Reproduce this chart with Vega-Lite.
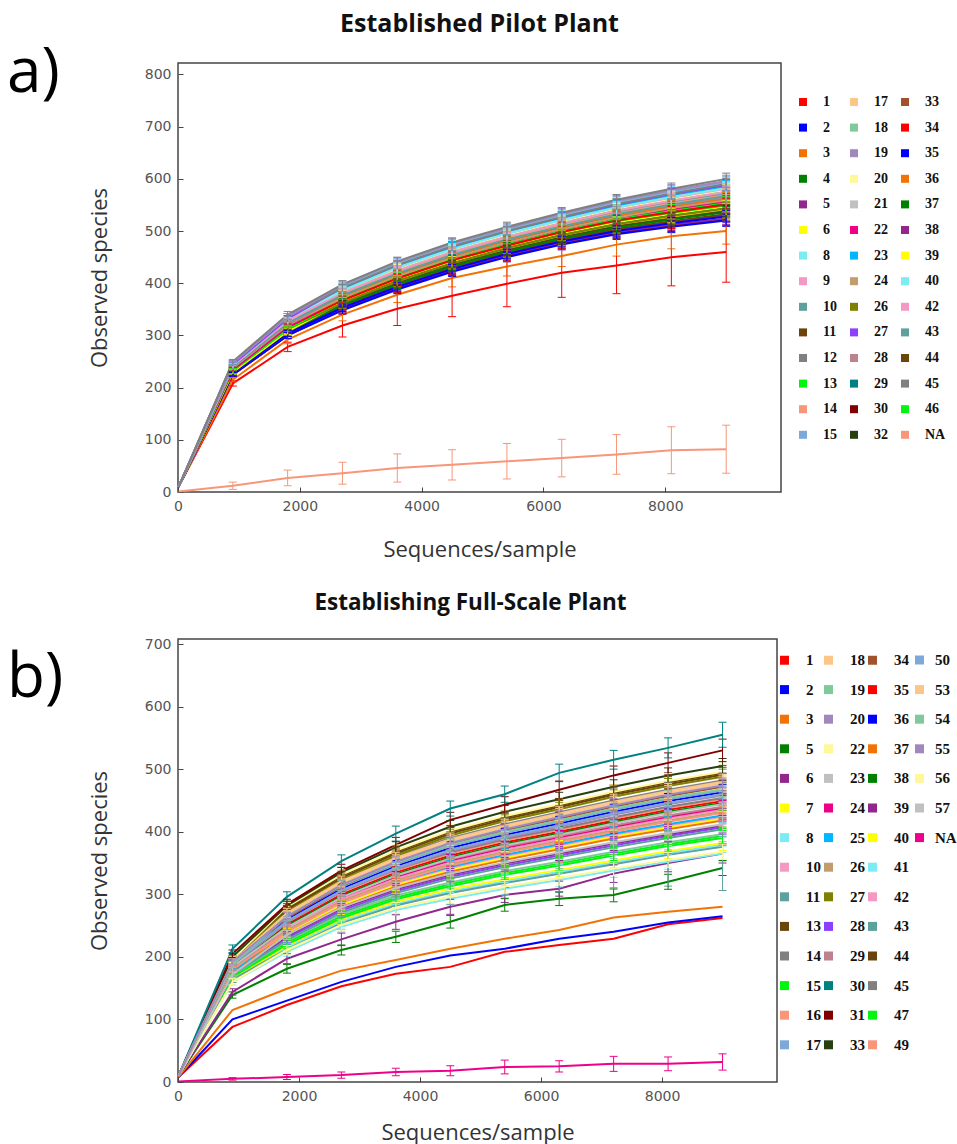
{
"$schema":"https://vega.github.io/schema/vega-lite/v6.json",
"padding":{"left":6,"top":10,"right":5,"bottom":0},
"background":"white",
"spacing":29,
"config":{
 "view":{"stroke":"#444","strokeWidth":1.5},
 "axis":{"grid":false,"domain":false,"ticks":true,"tickSize":-5,"tickColor":"#444","tickWidth":1,"labelFont":"DejaVu Sans","labelFontSize":14,"labelColor":"#555","labelPadding":12,"labelFlush":false,"titleFont":"Open Sans","titleFontSize":22,"titleFontWeight":"normal","titleColor":"#333"},
 "title":{"font":"Open Sans","fontWeight":"bold","fontSize":24,"color":"#111","anchor":"middle","frame":"group"}
},
"datasets":{
"a":[
{"s":"1","x":10,"y":10},{"s":"1","x":900,"y":208,"e":5},{"s":"1","x":1800,"y":278,"e":9},{"s":"1","x":2700,"y":319,"e":22},{"s":"1","x":3600,"y":351,"e":32},{"s":"1","x":4500,"y":376,"e":40},{"s":"1","x":5400,"y":399,"e":44},{"s":"1","x":6300,"y":420,"e":47},{"s":"1","x":7200,"y":434,"e":54},{"s":"1","x":8100,"y":450,"e":55},{"s":"1","x":9000,"y":460,"e":58},
{"s":"3","x":10,"y":10},{"s":"3","x":900,"y":215,"e":4},{"s":"3","x":1800,"y":292,"e":8},{"s":"3","x":2700,"y":340,"e":12},{"s":"3","x":3600,"y":378,"e":15},{"s":"3","x":4500,"y":410,"e":17},{"s":"3","x":5400,"y":432,"e":18},{"s":"3","x":6300,"y":452,"e":20},{"s":"3","x":7200,"y":474,"e":22},{"s":"3","x":8100,"y":490,"e":24},{"s":"3","x":9000,"y":500,"e":25},
{"s":"NA","x":10,"y":1},{"s":"NA","x":900,"y":12,"e":7},{"s":"NA","x":1800,"y":27,"e":15},{"s":"NA","x":2700,"y":36,"e":21},{"s":"NA","x":3600,"y":46,"e":27},{"s":"NA","x":4500,"y":52,"e":29},{"s":"NA","x":5400,"y":59,"e":34},{"s":"NA","x":6300,"y":65,"e":36},{"s":"NA","x":7200,"y":72,"e":38},{"s":"NA","x":8100,"y":80,"e":45},{"s":"NA","x":9000,"y":82,"e":46},
{"s":"30","x":10,"y":10},{"s":"30","x":900,"y":225,"e":4},{"s":"30","x":1800,"y":300,"e":6},{"s":"30","x":2700,"y":350,"e":7},{"s":"30","x":3600,"y":390,"e":8},{"s":"30","x":4500,"y":424,"e":9},{"s":"30","x":5400,"y":452,"e":9},{"s":"30","x":6300,"y":476,"e":10},{"s":"30","x":7200,"y":496,"e":10},{"s":"30","x":8100,"y":510,"e":11},{"s":"30","x":9000,"y":522,"e":11},
{"s":"5","x":10,"y":10},{"s":"5","x":900,"y":225,"e":4},{"s":"5","x":1800,"y":300,"e":6},{"s":"5","x":2700,"y":352,"e":7},{"s":"5","x":3600,"y":392,"e":8},{"s":"5","x":4500,"y":426,"e":9},{"s":"5","x":5400,"y":454,"e":9},{"s":"5","x":6300,"y":478,"e":10},{"s":"5","x":7200,"y":498,"e":10},{"s":"5","x":8100,"y":512,"e":11},{"s":"5","x":9000,"y":524,"e":11},
{"s":"35","x":10,"y":10},{"s":"35","x":900,"y":225,"e":4},{"s":"35","x":1800,"y":300,"e":6},{"s":"35","x":2700,"y":348,"e":7},{"s":"35","x":3600,"y":388,"e":8},{"s":"35","x":4500,"y":422,"e":9},{"s":"35","x":5400,"y":450,"e":9},{"s":"35","x":6300,"y":474,"e":10},{"s":"35","x":7200,"y":494,"e":10},{"s":"35","x":8100,"y":508,"e":11},{"s":"35","x":9000,"y":520,"e":11},
{"s":"38","x":10,"y":10},{"s":"38","x":900,"y":228,"e":4},{"s":"38","x":1800,"y":304,"e":6},{"s":"38","x":2700,"y":355,"e":7},{"s":"38","x":3600,"y":395,"e":8},{"s":"38","x":4500,"y":429,"e":9},{"s":"38","x":5400,"y":458,"e":9},{"s":"38","x":6300,"y":482,"e":10},{"s":"38","x":7200,"y":502,"e":10},{"s":"38","x":8100,"y":517,"e":11},{"s":"38","x":9000,"y":530,"e":11},
{"s":"11","x":10,"y":10},{"s":"11","x":900,"y":228,"e":4},{"s":"11","x":1800,"y":304,"e":6},{"s":"11","x":2700,"y":357,"e":7},{"s":"11","x":3600,"y":397,"e":8},{"s":"11","x":4500,"y":431,"e":9},{"s":"11","x":5400,"y":460,"e":9},{"s":"11","x":6300,"y":484,"e":10},{"s":"11","x":7200,"y":504,"e":10},{"s":"11","x":8100,"y":519,"e":11},{"s":"11","x":9000,"y":532,"e":11},
{"s":"2","x":10,"y":10},{"s":"2","x":900,"y":228,"e":4},{"s":"2","x":1800,"y":304,"e":6},{"s":"2","x":2700,"y":353,"e":7},{"s":"2","x":3600,"y":393,"e":8},{"s":"2","x":4500,"y":427,"e":9},{"s":"2","x":5400,"y":456,"e":9},{"s":"2","x":6300,"y":480,"e":10},{"s":"2","x":7200,"y":500,"e":10},{"s":"2","x":8100,"y":515,"e":11},{"s":"2","x":9000,"y":528,"e":11},
{"s":"32","x":10,"y":10},{"s":"32","x":900,"y":230,"e":4},{"s":"32","x":1800,"y":308,"e":6},{"s":"32","x":2700,"y":360,"e":7},{"s":"32","x":3600,"y":400,"e":8},{"s":"32","x":4500,"y":435,"e":9},{"s":"32","x":5400,"y":463,"e":9},{"s":"32","x":6300,"y":488,"e":10},{"s":"32","x":7200,"y":509,"e":10},{"s":"32","x":8100,"y":524,"e":11},{"s":"32","x":9000,"y":538,"e":11},
{"s":"44","x":10,"y":10},{"s":"44","x":900,"y":230,"e":4},{"s":"44","x":1800,"y":308,"e":6},{"s":"44","x":2700,"y":362,"e":7},{"s":"44","x":3600,"y":402,"e":8},{"s":"44","x":4500,"y":437,"e":9},{"s":"44","x":5400,"y":465,"e":9},{"s":"44","x":6300,"y":490,"e":10},{"s":"44","x":7200,"y":511,"e":10},{"s":"44","x":8100,"y":526,"e":11},{"s":"44","x":9000,"y":540,"e":11},
{"s":"4","x":10,"y":10},{"s":"4","x":900,"y":230,"e":4},{"s":"4","x":1800,"y":308,"e":6},{"s":"4","x":2700,"y":358,"e":7},{"s":"4","x":3600,"y":398,"e":8},{"s":"4","x":4500,"y":433,"e":9},{"s":"4","x":5400,"y":461,"e":9},{"s":"4","x":6300,"y":486,"e":10},{"s":"4","x":7200,"y":507,"e":10},{"s":"4","x":8100,"y":522,"e":11},{"s":"4","x":9000,"y":536,"e":11},
{"s":"6","x":10,"y":10},{"s":"6","x":900,"y":230,"e":4},{"s":"6","x":1800,"y":308,"e":6},{"s":"6","x":2700,"y":364,"e":7},{"s":"6","x":3600,"y":404,"e":8},{"s":"6","x":4500,"y":439,"e":9},{"s":"6","x":5400,"y":467,"e":9},{"s":"6","x":6300,"y":492,"e":10},{"s":"6","x":7200,"y":513,"e":10},{"s":"6","x":8100,"y":528,"e":11},{"s":"6","x":9000,"y":542,"e":11},
{"s":"37","x":10,"y":10},{"s":"37","x":900,"y":233,"e":4},{"s":"37","x":1800,"y":312,"e":6},{"s":"37","x":2700,"y":364,"e":7},{"s":"37","x":3600,"y":406,"e":8},{"s":"37","x":4500,"y":440,"e":9},{"s":"37","x":5400,"y":469,"e":9},{"s":"37","x":6300,"y":494,"e":10},{"s":"37","x":7200,"y":515,"e":10},{"s":"37","x":8100,"y":531,"e":11},{"s":"37","x":9000,"y":545,"e":11},
{"s":"39","x":10,"y":10},{"s":"39","x":900,"y":233,"e":4},{"s":"39","x":1800,"y":312,"e":6},{"s":"39","x":2700,"y":366,"e":7},{"s":"39","x":3600,"y":408,"e":8},{"s":"39","x":4500,"y":442,"e":9},{"s":"39","x":5400,"y":471,"e":9},{"s":"39","x":6300,"y":496,"e":10},{"s":"39","x":7200,"y":517,"e":10},{"s":"39","x":8100,"y":533,"e":11},{"s":"39","x":9000,"y":547,"e":11},
{"s":"26","x":10,"y":10},{"s":"26","x":900,"y":233,"e":4},{"s":"26","x":1800,"y":312,"e":6},{"s":"26","x":2700,"y":362,"e":7},{"s":"26","x":3600,"y":404,"e":8},{"s":"26","x":4500,"y":438,"e":9},{"s":"26","x":5400,"y":467,"e":9},{"s":"26","x":6300,"y":492,"e":10},{"s":"26","x":7200,"y":513,"e":10},{"s":"26","x":8100,"y":529,"e":11},{"s":"26","x":9000,"y":543,"e":11},
{"s":"13","x":10,"y":10},{"s":"13","x":900,"y":233,"e":4},{"s":"13","x":1800,"y":312,"e":6},{"s":"13","x":2700,"y":368,"e":7},{"s":"13","x":3600,"y":410,"e":8},{"s":"13","x":4500,"y":444,"e":9},{"s":"13","x":5400,"y":473,"e":9},{"s":"13","x":6300,"y":498,"e":10},{"s":"13","x":7200,"y":519,"e":10},{"s":"13","x":8100,"y":535,"e":11},{"s":"13","x":9000,"y":549,"e":11},
{"s":"29","x":10,"y":10},{"s":"29","x":900,"y":235,"e":4},{"s":"29","x":1800,"y":316,"e":6},{"s":"29","x":2700,"y":369,"e":7},{"s":"29","x":3600,"y":411,"e":8},{"s":"29","x":4500,"y":446,"e":9},{"s":"29","x":5400,"y":474,"e":9},{"s":"29","x":6300,"y":500,"e":10},{"s":"29","x":7200,"y":522,"e":10},{"s":"29","x":8100,"y":538,"e":11},{"s":"29","x":9000,"y":553,"e":11},
{"s":"46","x":10,"y":10},{"s":"46","x":900,"y":235,"e":4},{"s":"46","x":1800,"y":316,"e":6},{"s":"46","x":2700,"y":371,"e":7},{"s":"46","x":3600,"y":413,"e":8},{"s":"46","x":4500,"y":448,"e":9},{"s":"46","x":5400,"y":476,"e":9},{"s":"46","x":6300,"y":502,"e":10},{"s":"46","x":7200,"y":524,"e":10},{"s":"46","x":8100,"y":540,"e":11},{"s":"46","x":9000,"y":555,"e":11},
{"s":"34","x":10,"y":10},{"s":"34","x":900,"y":235,"e":4},{"s":"34","x":1800,"y":316,"e":6},{"s":"34","x":2700,"y":367,"e":7},{"s":"34","x":3600,"y":409,"e":8},{"s":"34","x":4500,"y":444,"e":9},{"s":"34","x":5400,"y":472,"e":9},{"s":"34","x":6300,"y":498,"e":10},{"s":"34","x":7200,"y":520,"e":10},{"s":"34","x":8100,"y":536,"e":11},{"s":"34","x":9000,"y":551,"e":11},
{"s":"22","x":10,"y":10},{"s":"22","x":900,"y":235,"e":4},{"s":"22","x":1800,"y":316,"e":6},{"s":"22","x":2700,"y":373,"e":7},{"s":"22","x":3600,"y":415,"e":8},{"s":"22","x":4500,"y":450,"e":9},{"s":"22","x":5400,"y":478,"e":9},{"s":"22","x":6300,"y":504,"e":10},{"s":"22","x":7200,"y":526,"e":10},{"s":"22","x":8100,"y":542,"e":11},{"s":"22","x":9000,"y":557,"e":11},
{"s":"33","x":10,"y":10},{"s":"33","x":900,"y":238,"e":4},{"s":"33","x":1800,"y":320,"e":6},{"s":"33","x":2700,"y":374,"e":7},{"s":"33","x":3600,"y":416,"e":8},{"s":"33","x":4500,"y":451,"e":9},{"s":"33","x":5400,"y":480,"e":9},{"s":"33","x":6300,"y":506,"e":10},{"s":"33","x":7200,"y":528,"e":10},{"s":"33","x":8100,"y":546,"e":11},{"s":"33","x":9000,"y":561,"e":11},
{"s":"36","x":10,"y":10},{"s":"36","x":900,"y":238,"e":4},{"s":"36","x":1800,"y":320,"e":6},{"s":"36","x":2700,"y":376,"e":7},{"s":"36","x":3600,"y":418,"e":8},{"s":"36","x":4500,"y":453,"e":9},{"s":"36","x":5400,"y":482,"e":9},{"s":"36","x":6300,"y":508,"e":10},{"s":"36","x":7200,"y":530,"e":10},{"s":"36","x":8100,"y":548,"e":11},{"s":"36","x":9000,"y":563,"e":11},
{"s":"24","x":10,"y":10},{"s":"24","x":900,"y":238,"e":4},{"s":"24","x":1800,"y":320,"e":6},{"s":"24","x":2700,"y":372,"e":7},{"s":"24","x":3600,"y":414,"e":8},{"s":"24","x":4500,"y":449,"e":9},{"s":"24","x":5400,"y":478,"e":9},{"s":"24","x":6300,"y":504,"e":10},{"s":"24","x":7200,"y":526,"e":10},{"s":"24","x":8100,"y":544,"e":11},{"s":"24","x":9000,"y":559,"e":11},
{"s":"28","x":10,"y":10},{"s":"28","x":900,"y":238,"e":4},{"s":"28","x":1800,"y":320,"e":6},{"s":"28","x":2700,"y":378,"e":7},{"s":"28","x":3600,"y":420,"e":8},{"s":"28","x":4500,"y":455,"e":9},{"s":"28","x":5400,"y":484,"e":9},{"s":"28","x":6300,"y":510,"e":10},{"s":"28","x":7200,"y":532,"e":10},{"s":"28","x":8100,"y":550,"e":11},{"s":"28","x":9000,"y":565,"e":11},
{"s":"17","x":10,"y":10},{"s":"17","x":900,"y":240,"e":4},{"s":"17","x":1800,"y":324,"e":6},{"s":"17","x":2700,"y":379,"e":7},{"s":"17","x":3600,"y":421,"e":8},{"s":"17","x":4500,"y":456,"e":9},{"s":"17","x":5400,"y":486,"e":9},{"s":"17","x":6300,"y":511,"e":10},{"s":"17","x":7200,"y":534,"e":10},{"s":"17","x":8100,"y":553,"e":11},{"s":"17","x":9000,"y":569,"e":11},
{"s":"14","x":10,"y":10},{"s":"14","x":900,"y":240,"e":4},{"s":"14","x":1800,"y":324,"e":6},{"s":"14","x":2700,"y":381,"e":7},{"s":"14","x":3600,"y":423,"e":8},{"s":"14","x":4500,"y":458,"e":9},{"s":"14","x":5400,"y":488,"e":9},{"s":"14","x":6300,"y":513,"e":10},{"s":"14","x":7200,"y":536,"e":10},{"s":"14","x":8100,"y":555,"e":11},{"s":"14","x":9000,"y":571,"e":11},
{"s":"10","x":10,"y":10},{"s":"10","x":900,"y":240,"e":4},{"s":"10","x":1800,"y":324,"e":6},{"s":"10","x":2700,"y":377,"e":7},{"s":"10","x":3600,"y":419,"e":8},{"s":"10","x":4500,"y":454,"e":9},{"s":"10","x":5400,"y":484,"e":9},{"s":"10","x":6300,"y":509,"e":10},{"s":"10","x":7200,"y":532,"e":10},{"s":"10","x":8100,"y":551,"e":11},{"s":"10","x":9000,"y":567,"e":11},
{"s":"43","x":10,"y":10},{"s":"43","x":900,"y":240,"e":4},{"s":"43","x":1800,"y":324,"e":6},{"s":"43","x":2700,"y":383,"e":7},{"s":"43","x":3600,"y":425,"e":8},{"s":"43","x":4500,"y":460,"e":9},{"s":"43","x":5400,"y":490,"e":9},{"s":"43","x":6300,"y":515,"e":10},{"s":"43","x":7200,"y":538,"e":10},{"s":"43","x":8100,"y":557,"e":11},{"s":"43","x":9000,"y":573,"e":11},
{"s":"18","x":10,"y":10},{"s":"18","x":900,"y":243,"e":4},{"s":"18","x":1800,"y":328,"e":6},{"s":"18","x":2700,"y":384,"e":7},{"s":"18","x":3600,"y":426,"e":8},{"s":"18","x":4500,"y":462,"e":9},{"s":"18","x":5400,"y":491,"e":9},{"s":"18","x":6300,"y":517,"e":10},{"s":"18","x":7200,"y":541,"e":10},{"s":"18","x":8100,"y":560,"e":11},{"s":"18","x":9000,"y":577,"e":11},
{"s":"20","x":10,"y":10},{"s":"20","x":900,"y":243,"e":4},{"s":"20","x":1800,"y":328,"e":6},{"s":"20","x":2700,"y":386,"e":7},{"s":"20","x":3600,"y":428,"e":8},{"s":"20","x":4500,"y":464,"e":9},{"s":"20","x":5400,"y":493,"e":9},{"s":"20","x":6300,"y":519,"e":10},{"s":"20","x":7200,"y":543,"e":10},{"s":"20","x":8100,"y":562,"e":11},{"s":"20","x":9000,"y":579,"e":11},
{"s":"9","x":10,"y":10},{"s":"9","x":900,"y":243,"e":4},{"s":"9","x":1800,"y":328,"e":6},{"s":"9","x":2700,"y":382,"e":7},{"s":"9","x":3600,"y":424,"e":8},{"s":"9","x":4500,"y":460,"e":9},{"s":"9","x":5400,"y":489,"e":9},{"s":"9","x":6300,"y":515,"e":10},{"s":"9","x":7200,"y":539,"e":10},{"s":"9","x":8100,"y":558,"e":11},{"s":"9","x":9000,"y":575,"e":11},
{"s":"42","x":10,"y":10},{"s":"42","x":900,"y":243,"e":4},{"s":"42","x":1800,"y":328,"e":6},{"s":"42","x":2700,"y":388,"e":7},{"s":"42","x":3600,"y":430,"e":8},{"s":"42","x":4500,"y":466,"e":9},{"s":"42","x":5400,"y":495,"e":9},{"s":"42","x":6300,"y":521,"e":10},{"s":"42","x":7200,"y":545,"e":10},{"s":"42","x":8100,"y":564,"e":11},{"s":"42","x":9000,"y":581,"e":11},
{"s":"21","x":10,"y":10},{"s":"21","x":900,"y":245,"e":4},{"s":"21","x":1800,"y":332,"e":6},{"s":"21","x":2700,"y":388,"e":7},{"s":"21","x":3600,"y":432,"e":8},{"s":"21","x":4500,"y":467,"e":9},{"s":"21","x":5400,"y":497,"e":9},{"s":"21","x":6300,"y":523,"e":10},{"s":"21","x":7200,"y":547,"e":10},{"s":"21","x":8100,"y":567,"e":11},{"s":"21","x":9000,"y":584,"e":11},
{"s":"23","x":10,"y":10},{"s":"23","x":900,"y":245,"e":4},{"s":"23","x":1800,"y":332,"e":6},{"s":"23","x":2700,"y":390,"e":7},{"s":"23","x":3600,"y":434,"e":8},{"s":"23","x":4500,"y":469,"e":9},{"s":"23","x":5400,"y":499,"e":9},{"s":"23","x":6300,"y":525,"e":10},{"s":"23","x":7200,"y":549,"e":10},{"s":"23","x":8100,"y":569,"e":11},{"s":"23","x":9000,"y":586,"e":11},
{"s":"8","x":10,"y":10},{"s":"8","x":900,"y":245,"e":4},{"s":"8","x":1800,"y":332,"e":6},{"s":"8","x":2700,"y":386,"e":7},{"s":"8","x":3600,"y":430,"e":8},{"s":"8","x":4500,"y":465,"e":9},{"s":"8","x":5400,"y":495,"e":9},{"s":"8","x":6300,"y":521,"e":10},{"s":"8","x":7200,"y":545,"e":10},{"s":"8","x":8100,"y":565,"e":11},{"s":"8","x":9000,"y":582,"e":11},
{"s":"27","x":10,"y":10},{"s":"27","x":900,"y":245,"e":4},{"s":"27","x":1800,"y":332,"e":6},{"s":"27","x":2700,"y":392,"e":7},{"s":"27","x":3600,"y":436,"e":8},{"s":"27","x":4500,"y":471,"e":9},{"s":"27","x":5400,"y":501,"e":9},{"s":"27","x":6300,"y":527,"e":10},{"s":"27","x":7200,"y":551,"e":10},{"s":"27","x":8100,"y":571,"e":11},{"s":"27","x":9000,"y":588,"e":11},
{"s":"40","x":10,"y":10},{"s":"40","x":900,"y":248,"e":4},{"s":"40","x":1800,"y":336,"e":6},{"s":"40","x":2700,"y":393,"e":7},{"s":"40","x":3600,"y":437,"e":8},{"s":"40","x":4500,"y":473,"e":9},{"s":"40","x":5400,"y":502,"e":9},{"s":"40","x":6300,"y":529,"e":10},{"s":"40","x":7200,"y":554,"e":10},{"s":"40","x":8100,"y":574,"e":11},{"s":"40","x":9000,"y":592,"e":11},
{"s":"15","x":10,"y":10},{"s":"15","x":900,"y":248,"e":4},{"s":"15","x":1800,"y":336,"e":6},{"s":"15","x":2700,"y":395,"e":7},{"s":"15","x":3600,"y":439,"e":8},{"s":"15","x":4500,"y":475,"e":9},{"s":"15","x":5400,"y":504,"e":9},{"s":"15","x":6300,"y":531,"e":10},{"s":"15","x":7200,"y":556,"e":10},{"s":"15","x":8100,"y":576,"e":11},{"s":"15","x":9000,"y":594,"e":11},
{"s":"12","x":10,"y":10},{"s":"12","x":900,"y":248,"e":4},{"s":"12","x":1800,"y":336,"e":6},{"s":"12","x":2700,"y":391,"e":7},{"s":"12","x":3600,"y":435,"e":8},{"s":"12","x":4500,"y":471,"e":9},{"s":"12","x":5400,"y":500,"e":9},{"s":"12","x":6300,"y":527,"e":10},{"s":"12","x":7200,"y":552,"e":10},{"s":"12","x":8100,"y":572,"e":11},{"s":"12","x":9000,"y":590,"e":11},
{"s":"19","x":10,"y":10},{"s":"19","x":900,"y":248,"e":4},{"s":"19","x":1800,"y":336,"e":6},{"s":"19","x":2700,"y":397,"e":7},{"s":"19","x":3600,"y":441,"e":8},{"s":"19","x":4500,"y":477,"e":9},{"s":"19","x":5400,"y":506,"e":9},{"s":"19","x":6300,"y":533,"e":10},{"s":"19","x":7200,"y":558,"e":10},{"s":"19","x":8100,"y":578,"e":11},{"s":"19","x":9000,"y":596,"e":11},
{"s":"45","x":10,"y":10},{"s":"45","x":900,"y":250,"e":4},{"s":"45","x":1800,"y":340,"e":6},{"s":"45","x":2700,"y":398,"e":7},{"s":"45","x":3600,"y":442,"e":8},{"s":"45","x":4500,"y":478,"e":9},{"s":"45","x":5400,"y":508,"e":9},{"s":"45","x":6300,"y":535,"e":10},{"s":"45","x":7200,"y":560,"e":10},{"s":"45","x":8100,"y":581,"e":11},{"s":"45","x":9000,"y":600,"e":11}
],
"b":[
{"s":"1","x":10,"y":8},{"s":"1","x":900,"y":88},{"s":"1","x":1800,"y":123},{"s":"1","x":2700,"y":153},{"s":"1","x":3600,"y":173},{"s":"1","x":4500,"y":184},{"s":"1","x":5400,"y":208},{"s":"1","x":6300,"y":219},{"s":"1","x":7200,"y":229},{"s":"1","x":8100,"y":252},{"s":"1","x":9000,"y":262},
{"s":"2","x":10,"y":8},{"s":"2","x":900,"y":100},{"s":"2","x":1800,"y":130},{"s":"2","x":2700,"y":160},{"s":"2","x":3600,"y":184},{"s":"2","x":4500,"y":202},{"s":"2","x":5400,"y":213},{"s":"2","x":6300,"y":229},{"s":"2","x":7200,"y":240},{"s":"2","x":8100,"y":255},{"s":"2","x":9000,"y":265},
{"s":"3","x":10,"y":8},{"s":"3","x":900,"y":115},{"s":"3","x":1800,"y":149},{"s":"3","x":2700,"y":178},{"s":"3","x":3600,"y":195},{"s":"3","x":4500,"y":213},{"s":"3","x":5400,"y":229},{"s":"3","x":6300,"y":243},{"s":"3","x":7200,"y":263},{"s":"3","x":8100,"y":272},{"s":"3","x":9000,"y":280},
{"s":"5","x":10,"y":10},{"s":"5","x":900,"y":139,"e":5},{"s":"5","x":1800,"y":181,"e":7},{"s":"5","x":2700,"y":211,"e":8},{"s":"5","x":3600,"y":232,"e":9},{"s":"5","x":4500,"y":256,"e":10},{"s":"5","x":5400,"y":283,"e":10},{"s":"5","x":6300,"y":293,"e":11},{"s":"5","x":7200,"y":299,"e":11},{"s":"5","x":8100,"y":320,"e":12},{"s":"5","x":9000,"y":342,"e":12},
{"s":"6","x":10,"y":10},{"s":"6","x":900,"y":144,"e":5},{"s":"6","x":1800,"y":197,"e":8},{"s":"6","x":2700,"y":228,"e":10},{"s":"6","x":3600,"y":256,"e":12},{"s":"6","x":4500,"y":280,"e":12},{"s":"6","x":5400,"y":299,"e":12},{"s":"6","x":6300,"y":309,"e":12},{"s":"6","x":7200,"y":333,"e":14},{"s":"6","x":8100,"y":350,"e":14},{"s":"6","x":9000,"y":365,"e":15},
{"s":"NA","x":10,"y":1},{"s":"NA","x":900,"y":5,"e":2},{"s":"NA","x":1800,"y":8,"e":4},{"s":"NA","x":2700,"y":11,"e":5},{"s":"NA","x":3600,"y":16,"e":6},{"s":"NA","x":4500,"y":18,"e":8},{"s":"NA","x":5400,"y":24,"e":11},{"s":"NA","x":6300,"y":25,"e":9},{"s":"NA","x":7200,"y":29,"e":12},{"s":"NA","x":8100,"y":29,"e":11},{"s":"NA","x":9000,"y":32,"e":13},
{"s":"8","x":10,"y":10},{"s":"8","x":900,"y":160,"e":5},{"s":"8","x":1800,"y":208,"e":7},{"s":"8","x":2700,"y":248,"e":8},{"s":"8","x":3600,"y":275,"e":9},{"s":"8","x":4500,"y":293,"e":10},{"s":"8","x":5400,"y":309,"e":10},{"s":"8","x":6300,"y":323,"e":11},{"s":"8","x":7200,"y":338,"e":11},{"s":"8","x":8100,"y":352,"e":12},{"s":"8","x":9000,"y":365,"e":12},
{"s":"56","x":10,"y":10},{"s":"56","x":900,"y":160,"e":5},{"s":"56","x":1800,"y":211,"e":7},{"s":"56","x":2700,"y":251,"e":8},{"s":"56","x":3600,"y":278,"e":9},{"s":"56","x":4500,"y":296,"e":10},{"s":"56","x":5400,"y":312,"e":10},{"s":"56","x":6300,"y":326,"e":11},{"s":"56","x":7200,"y":341,"e":11},{"s":"56","x":8100,"y":355,"e":12},{"s":"56","x":9000,"y":368,"e":12},
{"s":"41","x":10,"y":10},{"s":"41","x":900,"y":164,"e":5},{"s":"41","x":1800,"y":215,"e":7},{"s":"41","x":2700,"y":257,"e":8},{"s":"41","x":3600,"y":285,"e":9},{"s":"41","x":4500,"y":305,"e":10},{"s":"41","x":5400,"y":321,"e":10},{"s":"41","x":6300,"y":336,"e":11},{"s":"41","x":7200,"y":351,"e":11},{"s":"41","x":8100,"y":366,"e":12},{"s":"41","x":9000,"y":379,"e":12},
{"s":"40","x":10,"y":10},{"s":"40","x":900,"y":164,"e":5},{"s":"40","x":1800,"y":218,"e":7},{"s":"40","x":2700,"y":260,"e":8},{"s":"40","x":3600,"y":288,"e":9},{"s":"40","x":4500,"y":308,"e":10},{"s":"40","x":5400,"y":324,"e":10},{"s":"40","x":6300,"y":339,"e":11},{"s":"40","x":7200,"y":354,"e":11},{"s":"40","x":8100,"y":369,"e":12},{"s":"40","x":9000,"y":382,"e":12},
{"s":"43","x":10,"y":10},{"s":"43","x":900,"y":164,"e":5},{"s":"43","x":1800,"y":212,"e":8},{"s":"43","x":2700,"y":254,"e":10},{"s":"43","x":3600,"y":282,"e":14},{"s":"43","x":4500,"y":302,"e":18},{"s":"43","x":5400,"y":318,"e":24},{"s":"43","x":6300,"y":333,"e":30},{"s":"43","x":7200,"y":348,"e":40},{"s":"43","x":8100,"y":363,"e":50},{"s":"43","x":9000,"y":376,"e":70},
{"s":"47","x":10,"y":10},{"s":"47","x":900,"y":168,"e":5},{"s":"47","x":1800,"y":223,"e":7},{"s":"47","x":2700,"y":265,"e":8},{"s":"47","x":3600,"y":295,"e":9},{"s":"47","x":4500,"y":316,"e":10},{"s":"47","x":5400,"y":334,"e":10},{"s":"47","x":6300,"y":349,"e":11},{"s":"47","x":7200,"y":365,"e":11},{"s":"47","x":8100,"y":380,"e":12},{"s":"47","x":9000,"y":393,"e":12},
{"s":"19","x":10,"y":10},{"s":"19","x":900,"y":168,"e":5},{"s":"19","x":1800,"y":226,"e":7},{"s":"19","x":2700,"y":268,"e":8},{"s":"19","x":3600,"y":298,"e":9},{"s":"19","x":4500,"y":319,"e":10},{"s":"19","x":5400,"y":337,"e":10},{"s":"19","x":6300,"y":352,"e":11},{"s":"19","x":7200,"y":368,"e":11},{"s":"19","x":8100,"y":383,"e":12},{"s":"19","x":9000,"y":396,"e":12},
{"s":"15","x":10,"y":10},{"s":"15","x":900,"y":168,"e":5},{"s":"15","x":1800,"y":220,"e":7},{"s":"15","x":2700,"y":262,"e":8},{"s":"15","x":3600,"y":292,"e":9},{"s":"15","x":4500,"y":313,"e":10},{"s":"15","x":5400,"y":331,"e":10},{"s":"15","x":6300,"y":346,"e":11},{"s":"15","x":7200,"y":362,"e":11},{"s":"15","x":8100,"y":377,"e":12},{"s":"15","x":9000,"y":390,"e":12},
{"s":"28","x":10,"y":10},{"s":"28","x":900,"y":172,"e":5},{"s":"28","x":1800,"y":230,"e":7},{"s":"28","x":2700,"y":274,"e":8},{"s":"28","x":3600,"y":305,"e":9},{"s":"28","x":4500,"y":328,"e":10},{"s":"28","x":5400,"y":346,"e":10},{"s":"28","x":6300,"y":362,"e":11},{"s":"28","x":7200,"y":378,"e":11},{"s":"28","x":8100,"y":393,"e":12},{"s":"28","x":9000,"y":407,"e":12},
{"s":"39","x":10,"y":10},{"s":"39","x":900,"y":172,"e":5},{"s":"39","x":1800,"y":233,"e":7},{"s":"39","x":2700,"y":277,"e":8},{"s":"39","x":3600,"y":308,"e":9},{"s":"39","x":4500,"y":331,"e":10},{"s":"39","x":5400,"y":349,"e":10},{"s":"39","x":6300,"y":365,"e":11},{"s":"39","x":7200,"y":381,"e":11},{"s":"39","x":8100,"y":396,"e":12},{"s":"39","x":9000,"y":410,"e":12},
{"s":"11","x":10,"y":10},{"s":"11","x":900,"y":172,"e":5},{"s":"11","x":1800,"y":227,"e":7},{"s":"11","x":2700,"y":271,"e":8},{"s":"11","x":3600,"y":302,"e":9},{"s":"11","x":4500,"y":325,"e":10},{"s":"11","x":5400,"y":343,"e":10},{"s":"11","x":6300,"y":359,"e":11},{"s":"11","x":7200,"y":375,"e":11},{"s":"11","x":8100,"y":390,"e":12},{"s":"11","x":9000,"y":404,"e":12},
{"s":"57","x":10,"y":10},{"s":"57","x":900,"y":172,"e":5},{"s":"57","x":1800,"y":235,"e":7},{"s":"57","x":2700,"y":279,"e":8},{"s":"57","x":3600,"y":310,"e":9},{"s":"57","x":4500,"y":333,"e":10},{"s":"57","x":5400,"y":351,"e":10},{"s":"57","x":6300,"y":367,"e":11},{"s":"57","x":7200,"y":383,"e":11},{"s":"57","x":8100,"y":398,"e":12},{"s":"57","x":9000,"y":412,"e":12},
{"s":"7","x":10,"y":10},{"s":"7","x":900,"y":176,"e":5},{"s":"7","x":1800,"y":238,"e":7},{"s":"7","x":2700,"y":283,"e":8},{"s":"7","x":3600,"y":315,"e":9},{"s":"7","x":4500,"y":339,"e":10},{"s":"7","x":5400,"y":358,"e":10},{"s":"7","x":6300,"y":375,"e":11},{"s":"7","x":7200,"y":392,"e":11},{"s":"7","x":8100,"y":407,"e":12},{"s":"7","x":9000,"y":421,"e":12},
{"s":"42","x":10,"y":10},{"s":"42","x":900,"y":176,"e":5},{"s":"42","x":1800,"y":241,"e":7},{"s":"42","x":2700,"y":286,"e":8},{"s":"42","x":3600,"y":318,"e":9},{"s":"42","x":4500,"y":342,"e":10},{"s":"42","x":5400,"y":361,"e":10},{"s":"42","x":6300,"y":378,"e":11},{"s":"42","x":7200,"y":395,"e":11},{"s":"42","x":8100,"y":410,"e":12},{"s":"42","x":9000,"y":424,"e":12},
{"s":"37","x":10,"y":10},{"s":"37","x":900,"y":176,"e":5},{"s":"37","x":1800,"y":235,"e":7},{"s":"37","x":2700,"y":280,"e":8},{"s":"37","x":3600,"y":312,"e":9},{"s":"37","x":4500,"y":336,"e":10},{"s":"37","x":5400,"y":355,"e":10},{"s":"37","x":6300,"y":372,"e":11},{"s":"37","x":7200,"y":389,"e":11},{"s":"37","x":8100,"y":404,"e":12},{"s":"37","x":9000,"y":418,"e":12},
{"s":"25","x":10,"y":10},{"s":"25","x":900,"y":176,"e":5},{"s":"25","x":1800,"y":243,"e":7},{"s":"25","x":2700,"y":288,"e":8},{"s":"25","x":3600,"y":320,"e":9},{"s":"25","x":4500,"y":344,"e":10},{"s":"25","x":5400,"y":363,"e":10},{"s":"25","x":6300,"y":380,"e":11},{"s":"25","x":7200,"y":397,"e":11},{"s":"25","x":8100,"y":412,"e":12},{"s":"25","x":9000,"y":426,"e":12},
{"s":"10","x":10,"y":10},{"s":"10","x":900,"y":180,"e":5},{"s":"10","x":1800,"y":245,"e":7},{"s":"10","x":2700,"y":292,"e":8},{"s":"10","x":3600,"y":325,"e":9},{"s":"10","x":4500,"y":351,"e":10},{"s":"10","x":5400,"y":371,"e":10},{"s":"10","x":6300,"y":388,"e":11},{"s":"10","x":7200,"y":405,"e":11},{"s":"10","x":8100,"y":421,"e":12},{"s":"10","x":9000,"y":435,"e":12},
{"s":"24","x":10,"y":10},{"s":"24","x":900,"y":180,"e":5},{"s":"24","x":1800,"y":248,"e":7},{"s":"24","x":2700,"y":295,"e":8},{"s":"24","x":3600,"y":328,"e":9},{"s":"24","x":4500,"y":354,"e":10},{"s":"24","x":5400,"y":374,"e":10},{"s":"24","x":6300,"y":391,"e":11},{"s":"24","x":7200,"y":408,"e":11},{"s":"24","x":8100,"y":424,"e":12},{"s":"24","x":9000,"y":438,"e":12},
{"s":"26","x":10,"y":10},{"s":"26","x":900,"y":180,"e":5},{"s":"26","x":1800,"y":242,"e":7},{"s":"26","x":2700,"y":289,"e":8},{"s":"26","x":3600,"y":322,"e":9},{"s":"26","x":4500,"y":348,"e":10},{"s":"26","x":5400,"y":368,"e":10},{"s":"26","x":6300,"y":385,"e":11},{"s":"26","x":7200,"y":402,"e":11},{"s":"26","x":8100,"y":418,"e":12},{"s":"26","x":9000,"y":432,"e":12},
{"s":"29","x":10,"y":10},{"s":"29","x":900,"y":180,"e":5},{"s":"29","x":1800,"y":250,"e":7},{"s":"29","x":2700,"y":297,"e":8},{"s":"29","x":3600,"y":330,"e":9},{"s":"29","x":4500,"y":356,"e":10},{"s":"29","x":5400,"y":376,"e":10},{"s":"29","x":6300,"y":393,"e":11},{"s":"29","x":7200,"y":410,"e":11},{"s":"29","x":8100,"y":426,"e":12},{"s":"29","x":9000,"y":440,"e":12},
{"s":"49","x":10,"y":10},{"s":"49","x":900,"y":180,"e":5},{"s":"49","x":1800,"y":240,"e":7},{"s":"49","x":2700,"y":287,"e":8},{"s":"49","x":3600,"y":320,"e":9},{"s":"49","x":4500,"y":346,"e":10},{"s":"49","x":5400,"y":366,"e":10},{"s":"49","x":6300,"y":383,"e":11},{"s":"49","x":7200,"y":400,"e":11},{"s":"49","x":8100,"y":416,"e":12},{"s":"49","x":9000,"y":430,"e":12},
{"s":"35","x":10,"y":10},{"s":"35","x":900,"y":184,"e":5},{"s":"35","x":1800,"y":252,"e":7},{"s":"35","x":2700,"y":300,"e":8},{"s":"35","x":3600,"y":335,"e":9},{"s":"35","x":4500,"y":362,"e":10},{"s":"35","x":5400,"y":383,"e":10},{"s":"35","x":6300,"y":400,"e":11},{"s":"35","x":7200,"y":418,"e":11},{"s":"35","x":8100,"y":435,"e":12},{"s":"35","x":9000,"y":449,"e":12},
{"s":"16","x":10,"y":10},{"s":"16","x":900,"y":184,"e":5},{"s":"16","x":1800,"y":255,"e":7},{"s":"16","x":2700,"y":303,"e":8},{"s":"16","x":3600,"y":338,"e":9},{"s":"16","x":4500,"y":365,"e":10},{"s":"16","x":5400,"y":386,"e":10},{"s":"16","x":6300,"y":403,"e":11},{"s":"16","x":7200,"y":421,"e":11},{"s":"16","x":8100,"y":438,"e":12},{"s":"16","x":9000,"y":452,"e":12},
{"s":"38","x":10,"y":10},{"s":"38","x":900,"y":184,"e":5},{"s":"38","x":1800,"y":249,"e":7},{"s":"38","x":2700,"y":297,"e":8},{"s":"38","x":3600,"y":332,"e":9},{"s":"38","x":4500,"y":359,"e":10},{"s":"38","x":5400,"y":380,"e":10},{"s":"38","x":6300,"y":397,"e":11},{"s":"38","x":7200,"y":415,"e":11},{"s":"38","x":8100,"y":432,"e":12},{"s":"38","x":9000,"y":446,"e":12},
{"s":"14","x":10,"y":10},{"s":"14","x":900,"y":184,"e":5},{"s":"14","x":1800,"y":257,"e":7},{"s":"14","x":2700,"y":305,"e":8},{"s":"14","x":3600,"y":340,"e":9},{"s":"14","x":4500,"y":367,"e":10},{"s":"14","x":5400,"y":388,"e":10},{"s":"14","x":6300,"y":405,"e":11},{"s":"14","x":7200,"y":423,"e":11},{"s":"14","x":8100,"y":440,"e":12},{"s":"14","x":9000,"y":454,"e":12},
{"s":"23","x":10,"y":10},{"s":"23","x":900,"y":184,"e":5},{"s":"23","x":1800,"y":247,"e":7},{"s":"23","x":2700,"y":295,"e":8},{"s":"23","x":3600,"y":330,"e":9},{"s":"23","x":4500,"y":357,"e":10},{"s":"23","x":5400,"y":378,"e":10},{"s":"23","x":6300,"y":395,"e":11},{"s":"23","x":7200,"y":413,"e":11},{"s":"23","x":8100,"y":430,"e":12},{"s":"23","x":9000,"y":444,"e":12},
{"s":"36","x":10,"y":10},{"s":"36","x":900,"y":188,"e":5},{"s":"36","x":1800,"y":260,"e":7},{"s":"36","x":2700,"y":309,"e":8},{"s":"36","x":3600,"y":345,"e":9},{"s":"36","x":4500,"y":374,"e":10},{"s":"36","x":5400,"y":395,"e":10},{"s":"36","x":6300,"y":413,"e":11},{"s":"36","x":7200,"y":432,"e":11},{"s":"36","x":8100,"y":449,"e":12},{"s":"36","x":9000,"y":463,"e":12},
{"s":"17","x":10,"y":10},{"s":"17","x":900,"y":188,"e":5},{"s":"17","x":1800,"y":263,"e":7},{"s":"17","x":2700,"y":312,"e":8},{"s":"17","x":3600,"y":348,"e":9},{"s":"17","x":4500,"y":377,"e":10},{"s":"17","x":5400,"y":398,"e":10},{"s":"17","x":6300,"y":416,"e":11},{"s":"17","x":7200,"y":435,"e":11},{"s":"17","x":8100,"y":452,"e":12},{"s":"17","x":9000,"y":466,"e":12},
{"s":"50","x":10,"y":10},{"s":"50","x":900,"y":188,"e":5},{"s":"50","x":1800,"y":257,"e":7},{"s":"50","x":2700,"y":306,"e":8},{"s":"50","x":3600,"y":342,"e":9},{"s":"50","x":4500,"y":371,"e":10},{"s":"50","x":5400,"y":392,"e":10},{"s":"50","x":6300,"y":410,"e":11},{"s":"50","x":7200,"y":429,"e":11},{"s":"50","x":8100,"y":446,"e":12},{"s":"50","x":9000,"y":460,"e":12},
{"s":"54","x":10,"y":10},{"s":"54","x":900,"y":188,"e":5},{"s":"54","x":1800,"y":265,"e":7},{"s":"54","x":2700,"y":314,"e":8},{"s":"54","x":3600,"y":350,"e":9},{"s":"54","x":4500,"y":379,"e":10},{"s":"54","x":5400,"y":400,"e":10},{"s":"54","x":6300,"y":418,"e":11},{"s":"54","x":7200,"y":437,"e":11},{"s":"54","x":8100,"y":454,"e":12},{"s":"54","x":9000,"y":468,"e":12},
{"s":"20","x":10,"y":10},{"s":"20","x":900,"y":188,"e":5},{"s":"20","x":1800,"y":255,"e":7},{"s":"20","x":2700,"y":304,"e":8},{"s":"20","x":3600,"y":340,"e":9},{"s":"20","x":4500,"y":369,"e":10},{"s":"20","x":5400,"y":390,"e":10},{"s":"20","x":6300,"y":408,"e":11},{"s":"20","x":7200,"y":427,"e":11},{"s":"20","x":8100,"y":444,"e":12},{"s":"20","x":9000,"y":458,"e":12},
{"s":"18","x":10,"y":10},{"s":"18","x":900,"y":192,"e":5},{"s":"18","x":1800,"y":267,"e":7},{"s":"18","x":2700,"y":318,"e":8},{"s":"18","x":3600,"y":355,"e":9},{"s":"18","x":4500,"y":385,"e":10},{"s":"18","x":5400,"y":407,"e":10},{"s":"18","x":6300,"y":426,"e":11},{"s":"18","x":7200,"y":445,"e":11},{"s":"18","x":8100,"y":462,"e":12},{"s":"18","x":9000,"y":477,"e":12},
{"s":"53","x":10,"y":10},{"s":"53","x":900,"y":192,"e":5},{"s":"53","x":1800,"y":270,"e":7},{"s":"53","x":2700,"y":321,"e":8},{"s":"53","x":3600,"y":358,"e":9},{"s":"53","x":4500,"y":388,"e":10},{"s":"53","x":5400,"y":410,"e":10},{"s":"53","x":6300,"y":429,"e":11},{"s":"53","x":7200,"y":448,"e":11},{"s":"53","x":8100,"y":465,"e":12},{"s":"53","x":9000,"y":480,"e":12},
{"s":"55","x":10,"y":10},{"s":"55","x":900,"y":192,"e":5},{"s":"55","x":1800,"y":264,"e":7},{"s":"55","x":2700,"y":315,"e":8},{"s":"55","x":3600,"y":352,"e":9},{"s":"55","x":4500,"y":382,"e":10},{"s":"55","x":5400,"y":404,"e":10},{"s":"55","x":6300,"y":423,"e":11},{"s":"55","x":7200,"y":442,"e":11},{"s":"55","x":8100,"y":459,"e":12},{"s":"55","x":9000,"y":474,"e":12},
{"s":"45","x":10,"y":10},{"s":"45","x":900,"y":192,"e":5},{"s":"45","x":1800,"y":272,"e":7},{"s":"45","x":2700,"y":323,"e":8},{"s":"45","x":3600,"y":360,"e":9},{"s":"45","x":4500,"y":390,"e":10},{"s":"45","x":5400,"y":412,"e":10},{"s":"45","x":6300,"y":431,"e":11},{"s":"45","x":7200,"y":450,"e":11},{"s":"45","x":8100,"y":467,"e":12},{"s":"45","x":9000,"y":482,"e":12},
{"s":"34","x":10,"y":10},{"s":"34","x":900,"y":192,"e":5},{"s":"34","x":1800,"y":262,"e":7},{"s":"34","x":2700,"y":313,"e":8},{"s":"34","x":3600,"y":350,"e":9},{"s":"34","x":4500,"y":380,"e":10},{"s":"34","x":5400,"y":402,"e":10},{"s":"34","x":6300,"y":421,"e":11},{"s":"34","x":7200,"y":440,"e":11},{"s":"34","x":8100,"y":457,"e":12},{"s":"34","x":9000,"y":472,"e":12},
{"s":"13","x":10,"y":10},{"s":"13","x":900,"y":196,"e":5},{"s":"13","x":1800,"y":275,"e":7},{"s":"13","x":2700,"y":326,"e":8},{"s":"13","x":3600,"y":365,"e":9},{"s":"13","x":4500,"y":397,"e":10},{"s":"13","x":5400,"y":420,"e":10},{"s":"13","x":6300,"y":439,"e":11},{"s":"13","x":7200,"y":459,"e":11},{"s":"13","x":8100,"y":476,"e":12},{"s":"13","x":9000,"y":491,"e":12},
{"s":"44","x":10,"y":10},{"s":"44","x":900,"y":196,"e":5},{"s":"44","x":1800,"y":278,"e":7},{"s":"44","x":2700,"y":329,"e":8},{"s":"44","x":3600,"y":368,"e":9},{"s":"44","x":4500,"y":400,"e":10},{"s":"44","x":5400,"y":423,"e":10},{"s":"44","x":6300,"y":442,"e":11},{"s":"44","x":7200,"y":462,"e":11},{"s":"44","x":8100,"y":479,"e":12},{"s":"44","x":9000,"y":494,"e":12},
{"s":"27","x":10,"y":10},{"s":"27","x":900,"y":196,"e":5},{"s":"27","x":1800,"y":272,"e":7},{"s":"27","x":2700,"y":323,"e":8},{"s":"27","x":3600,"y":362,"e":9},{"s":"27","x":4500,"y":394,"e":10},{"s":"27","x":5400,"y":417,"e":10},{"s":"27","x":6300,"y":436,"e":11},{"s":"27","x":7200,"y":456,"e":11},{"s":"27","x":8100,"y":473,"e":12},{"s":"27","x":9000,"y":488,"e":12},
{"s":"22","x":10,"y":10},{"s":"22","x":900,"y":196,"e":5},{"s":"22","x":1800,"y":280,"e":7},{"s":"22","x":2700,"y":331,"e":8},{"s":"22","x":3600,"y":370,"e":9},{"s":"22","x":4500,"y":402,"e":10},{"s":"22","x":5400,"y":425,"e":10},{"s":"22","x":6300,"y":444,"e":11},{"s":"22","x":7200,"y":464,"e":11},{"s":"22","x":8100,"y":481,"e":12},{"s":"22","x":9000,"y":496,"e":12},
{"s":"33","x":10,"y":10},{"s":"33","x":900,"y":200,"e":5},{"s":"33","x":1800,"y":282,"e":7},{"s":"33","x":2700,"y":335,"e":8},{"s":"33","x":3600,"y":375,"e":9},{"s":"33","x":4500,"y":408,"e":10},{"s":"33","x":5400,"y":432,"e":10},{"s":"33","x":6300,"y":452,"e":11},{"s":"33","x":7200,"y":472,"e":11},{"s":"33","x":8100,"y":490,"e":12},{"s":"33","x":9000,"y":505,"e":12},
{"s":"31","x":10,"y":10},{"s":"31","x":900,"y":205,"e":6},{"s":"31","x":1800,"y":284,"e":8},{"s":"31","x":2700,"y":338,"e":10},{"s":"31","x":3600,"y":379,"e":12},{"s":"31","x":4500,"y":419,"e":12},{"s":"31","x":5400,"y":443,"e":13},{"s":"31","x":6300,"y":467,"e":14},{"s":"31","x":7200,"y":490,"e":15},{"s":"31","x":8100,"y":510,"e":16},{"s":"31","x":9000,"y":530,"e":18},
{"s":"30","x":10,"y":10},{"s":"30","x":900,"y":213,"e":6},{"s":"30","x":1800,"y":296,"e":8},{"s":"30","x":2700,"y":353,"e":10},{"s":"30","x":3600,"y":397,"e":12},{"s":"30","x":4500,"y":437,"e":12},{"s":"30","x":5400,"y":460,"e":13},{"s":"30","x":6300,"y":494,"e":14},{"s":"30","x":7200,"y":515,"e":15},{"s":"30","x":8100,"y":534,"e":16},{"s":"30","x":9000,"y":555,"e":20}
]
},
"vconcat":[
{
 "width":603,"height":429,
 "title":{"text":"Established Pilot Plant","fontSize":25,"offset":5},
 "data":{"name":"a"},
 "layer":[
  {"encoding":{
    "x":{"field":"x","type":"quantitative","scale":{"domain":[0,9900],"nice":false},"axis":{"values":[0,2000,4000,6000,8000],"format":"d","title":"Sequences/sample","titlePadding":26}},
    "y":{"field":"y","type":"quantitative","scale":{"domain":[0,822],"nice":false},"axis":{"values":[0,100,200,300,400,500,600,700,800],"format":"d","title":"Observed species","titlePadding":33}}
   },
   "layer":[
    {"transform":[{"filter":"datum.x == 10"}],
     "mark":{"type":"square","size":0,"opacity":1},
     "encoding":{"color":{"field":"s","type":"nominal",
      "scale":{"domain":["1","2","3","4","5","6","8","9","10","11","12","13","14","15","17","18","19","20","21","22","23","24","26","27","28","29","30","32","33","34","35","36","37","38","39","40","42","43","44","45","46","NA"],
      "range":["#ff0000","#0000ff","#f27304","#008000","#91278d","#ffff00","#7cecf4","#f49ac2","#5da09e","#6b440b","#808080","#02f50f","#f79679","#7da9d8","#fcc688","#80c99b","#a287bf","#fff899","#c0c0c0","#ed008a","#00b6ff","#c49c6b","#808000","#8c3fff","#bd828e","#008080","#800000","#264010","#a0522d","#ff0000","#0000ff","#f27304","#008000","#91278d","#ffff00","#7cecf4","#f49ac2","#5da09e","#6b440b","#808080","#02f50f","#f79679"]},
      "legend":{"orient":"none","legendX":618,"legendY":32,"columns":3,"symbolLimit":100,"title":null,"padding":0,"symbolType":"square","symbolSize":64,"symbolOpacity":1,"symbolStrokeWidth":0,"labelFont":"Liberation Serif","labelFontWeight":"bold","labelFontSize":14,"labelColor":"#111","labelOffset":13,"rowPadding":11.6,"columnPadding":10,"encoding":{"symbols":{"opacity":{"value":1}}}}}}},
    {"mark":{"type":"line","strokeWidth":2},
     "encoding":{"color":{"field":"s","type":"nominal"}}},
    {"transform":[{"filter":"datum.e > 0"}],
     "mark":{"type":"errorbar","ticks":true,"size":8,"thickness":1,"opacity":1},
     "encoding":{"yError":{"field":"e"},"color":{"field":"s","type":"nominal"}}}
   ]},
  {"data":{"values":[{"t":"a)"}]},
   "mark":{"type":"text","font":"Open Sans","fontSize":62,"align":"left","baseline":"alphabetic","color":"#000"},
   "encoding":{"text":{"field":"t","type":"nominal"},"x":{"datum":-2808,"type":"quantitative"},"y":{"datum":767,"type":"quantitative"}}}
 ]
},
{
 "width":599,"height":443,
 "title":{"text":"Establishing Full-Scale Plant","fontSize":22.5,"dx":-7,"offset":23},
 "data":{"name":"b"},
 "layer":[
  {"encoding":{
    "x":{"field":"x","type":"quantitative","scale":{"domain":[0,9900],"nice":false},"axis":{"values":[0,2000,4000,6000,8000],"format":"d","title":"Sequences/sample","titlePadding":19}},
    "y":{"field":"y","type":"quantitative","scale":{"domain":[0,708],"nice":false},"axis":{"values":[0,100,200,300,400,500,600,700],"format":"d","title":"Observed species","titlePadding":33}}
   },
   "layer":[
    {"transform":[{"filter":{"not":{"field":"s","oneOf":["50","53","54","55","56","57","NA"]}}}],
     "layer":[
      {"transform":[{"filter":"datum.x == 10"}],
       "mark":{"type":"square","size":0,"opacity":1},
       "encoding":{"color":{"field":"s","type":"nominal",
        "scale":{"domain":["1","2","3","5","6","7","8","10","11","13","14","15","16","17","18","19","20","22","23","24","25","26","27","28","29","30","31","33","34","35","36","37","38","39","40","41","42","43","44","45","47","49"],
        "range":["#ff0000","#0000ff","#f27304","#008000","#91278d","#ffff00","#7cecf4","#f49ac2","#5da09e","#6b440b","#808080","#02f50f","#f79679","#7da9d8","#fcc688","#80c99b","#a287bf","#fff899","#c0c0c0","#ed008a","#00b6ff","#c49c6b","#808000","#8c3fff","#bd828e","#008080","#800000","#264010","#a0522d","#ff0000","#0000ff","#f27304","#008000","#91278d","#ffff00","#7cecf4","#f49ac2","#5da09e","#6b440b","#808080","#02f50f","#f79679"]},
        "legend":{"orient":"none","legendX":599,"legendY":13.5,"columns":3,"symbolLimit":100,"title":null,"padding":0,"symbolType":"square","symbolSize":81,"symbolOpacity":1,"symbolStrokeWidth":0,"labelFont":"Liberation Serif","labelFontWeight":"bold","labelFontSize":15,"labelColor":"#111","labelOffset":14,"rowPadding":13.6,"columnPadding":0,"encoding":{"symbols":{"opacity":{"value":1}}}}}}},
      {"mark":{"type":"line","strokeWidth":2},
       "encoding":{"color":{"field":"s","type":"nominal"}}},
      {"transform":[{"filter":"datum.e > 0"}],
       "mark":{"type":"errorbar","ticks":true,"size":8,"thickness":1,"opacity":1},
       "encoding":{"yError":{"field":"e"},"color":{"field":"s","type":"nominal"}}}
     ]},
    {"transform":[{"filter":{"field":"s","oneOf":["50","53","54","55","56","57","NA"]}}],
     "layer":[
      {"transform":[{"filter":"datum.x == 10"}],
       "mark":{"type":"square","size":0,"opacity":1},
       "encoding":{"color":{"field":"s","type":"nominal",
        "scale":{"domain":["50","53","54","55","56","57","NA"],"range":["#7da9d8","#fcc688","#80c99b","#a287bf","#fff899","#c0c0c0","#ed008a"]},
        "legend":{"orient":"none","legendX":734,"legendY":13.5,"columns":1,"title":null,"padding":0,"symbolType":"square","symbolSize":81,"symbolOpacity":1,"symbolStrokeWidth":0,"labelFont":"Liberation Serif","labelFontWeight":"bold","labelFontSize":15,"labelColor":"#111","labelOffset":8,"rowPadding":13.6,"encoding":{"symbols":{"opacity":{"value":1}}}}}}},
      {"mark":{"type":"line","strokeWidth":2},
       "encoding":{"color":{"field":"s","type":"nominal"}}},
      {"transform":[{"filter":"datum.e > 0"}],
       "mark":{"type":"errorbar","ticks":true,"size":8,"thickness":1,"opacity":1},
       "encoding":{"yError":{"field":"e"},"color":{"field":"s","type":"nominal"}}}
     ]}
   ],
   "resolve":{"scale":{"color":"independent"}}},
  {"data":{"values":[{"t":"b)"}]},
   "mark":{"type":"text","font":"Open Sans","fontSize":62,"align":"left","baseline":"alphabetic","color":"#000"},
   "encoding":{"text":{"field":"t","type":"nominal"},"x":{"datum":-2826,"type":"quantitative"},"y":{"datum":615,"type":"quantitative"}}}
 ]
}
]
}
